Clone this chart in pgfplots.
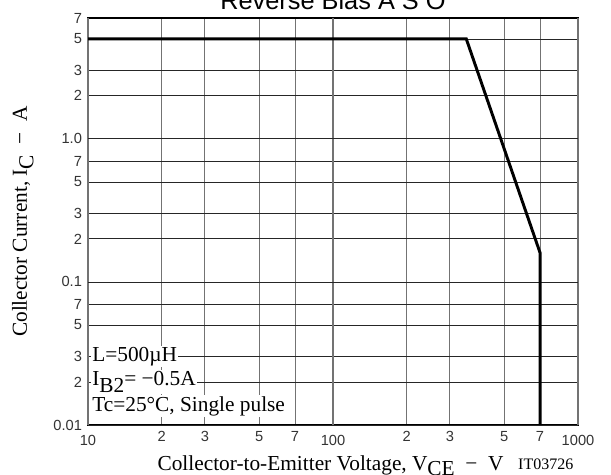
\documentclass[border=0pt]{standalone}
\usepackage{fontspec}
\setmainfont{Liberation Serif}
\setsansfont{Liberation Sans}
\usepackage{pgfplots}
\pgfplotsset{compat=1.18}
\usetikzlibrary{calc}
\begin{document}
\begin{tikzpicture}
\begin{loglogaxis}[
  scale only axis,
  width=367.5pt, height=305.25pt,
  xmin=10, xmax=1000, ymin=0.01, ymax=7,
  axis line style={black, line width=1pt},
  xtick={20,30,50,70,200,300,500,700},
  xticklabels={2,3,5,7,2,3,5,7},
  ytick={0.02,0.03,0.05,0.07,0.2,0.3,0.5,0.7,2,3,5,7},
  yticklabels={2,3,5,7,2,3,5,7,2,3,5,7},
  extra x ticks={10,100,1000},
  extra x tick labels={10,100,1000},
  extra y ticks={0.01,0.1,1},
  extra y tick labels={0.01,0.1,1.0},
  extra x tick style={grid style={black, line width=0.9pt}, tick label style={yshift=-3.5pt}},
  extra y tick style={grid style={black!90, line width=0.7pt}},
  major tick length=0pt, minor tick length=0pt,
  minor tick num=0,
  xmajorgrids, ymajorgrids,
  x grid style={black!55, line width=0.8pt},
  y grid style={black!85, line width=0.6pt},
  tick label style={font=\sffamily\fontsize{11}{12}\selectfont, text=black!80},
  xticklabel style={yshift=-1pt},
  yticklabel style={xshift=-1pt},
  ylabel={Collector Current, I\raisebox{-0.3em}{C}~~−~~A},
  ylabel style={font=\fontsize{16}{17}\selectfont, at={(axis description cs:-0.133,0.5)}, anchor=center},
  xlabel={Collector-to-Emitter Voltage, V\raisebox{-0.28em}{CE}~~−~~V},
  xlabel style={font=\fontsize{16}{17}\selectfont, at={(axis description cs:0.495,-0.1106)}, anchor=base},
  clip=false,
]
\addplot[black, line width=2.2pt, line join=miter] coordinates {
  (10,5) (350,5) (700,0.16) (700,0.01)
};
\coordinate (bl) at (rel axis cs:0,0);
\coordinate (tr) at (rel axis cs:1,1);
\coordinate (tc) at (rel axis cs:0.5,1);
\coordinate (br) at (rel axis cs:1,0);
\node[font=\fontsize{16}{17}\selectfont, fill=white, inner sep=1pt, anchor=west, xshift=2pt] at (axis cs:10,0.03) {L=500µH};
\node[font=\fontsize{16}{17}\selectfont, fill=white, inner sep=1pt, anchor=west, xshift=2pt] at (axis cs:10,0.02) {I\raisebox{-0.3em}{B2}=~−0.5A};
\node[font=\fontsize{16}{17}\selectfont, fill=white, inner sep=1pt, anchor=west, xshift=2pt] at (axis cs:10,0.0135) {Tc=25°C, Single pulse};
\end{loglogaxis}
\node[font=\fontsize{12}{13}\selectfont, anchor=base east] at ($(br)+(0,-33.75pt)$) {IT03726};
\node[font=\sffamily\fontsize{19}{20}\selectfont, anchor=base] at ($(tc)+(0,6pt)$) {Reverse Bias A S O};
\pgfresetboundingbox
\path[use as bounding box] ($(bl)+(-66pt,-37.5pt)$) rectangle ($(tr)+(24.75pt,13.5pt)$);
\end{tikzpicture}
\end{document}
